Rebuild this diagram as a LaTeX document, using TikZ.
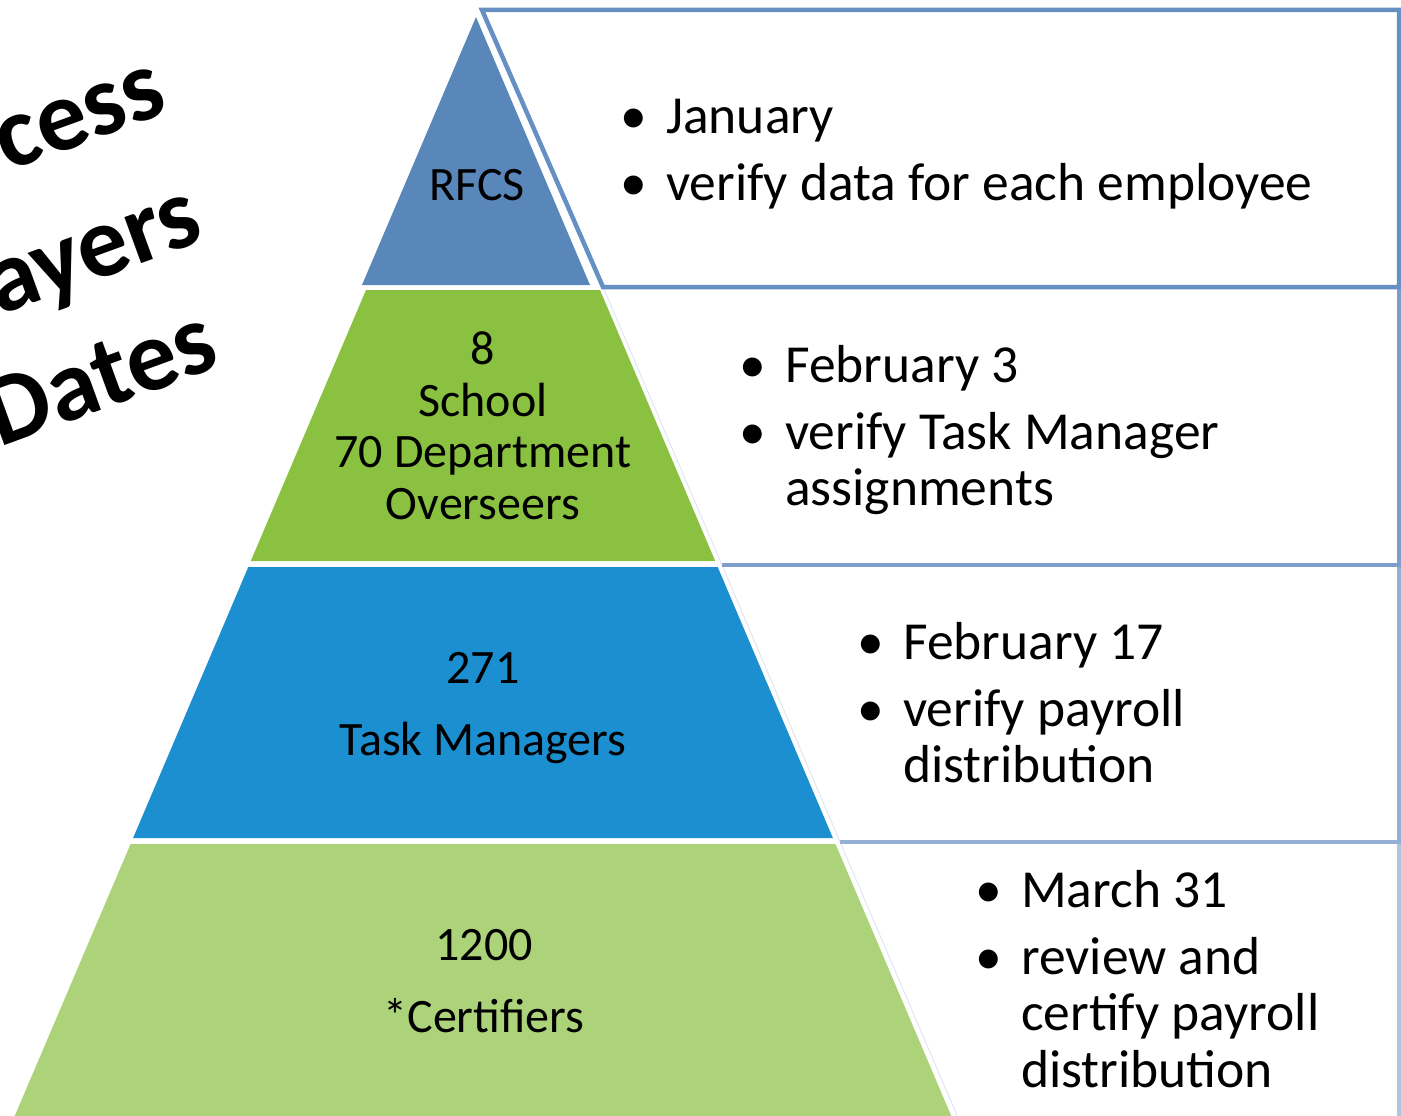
\documentclass[tikz,border=0pt]{standalone}
\usepackage{fontspec}
\setmainfont{Carlito}
\usetikzlibrary{positioning}

\definecolor{rfcsblue}{HTML}{5A87BA}
\definecolor{schoolgreen}{HTML}{8AC140}
\definecolor{taskblue}{HTML}{1B8FD0}
\definecolor{certgreen}{HTML}{ACD27A}
\definecolor{boxA}{HTML}{6690C4}
\definecolor{boxB}{HTML}{7D9DCB}
\definecolor{boxC}{HTML}{95AED4}
\definecolor{boxD}{HTML}{B0C3DF}
\definecolor{boxedge}{HTML}{DFE7F3}

\newcommand{\bul}[1]{\begin{tabular}[t]{@{}p{46pt}@{}l@{}}\textbullet & #1\end{tabular}}

\begin{document}
\begin{tikzpicture}[x=1pt,y=-1pt,
  tier/.style={font=\fontsize{48}{52}\selectfont,anchor=base,inner sep=0pt},
  note/.style={font=\fontsize{53.5}{56.5}\selectfont,anchor=base west,inner sep=0pt},
  title/.style={font=\fontsize{101}{108}\selectfont\bfseries,anchor=base east,rotate=20,inner sep=0pt},
  boxline/.style={line width=4.5pt,line join=miter},
  faint/.style={boxedge,line width=1pt}]

  \useasboundingbox (0,0) rectangle (1401,1116);
  \clip (0,0) rectangle (1401,1116);

  \node[title] (ttl1) at (171,112) {Process};
  \node[title] (ttl2) at (207,240) {Layers};
  \node[title] (ttl3) at (223,366) {Dates};

  \fill[rfcsblue] (476,17) -- (590,285) -- (362,285) -- cycle;
  \fill[schoolgreen] (366,290) -- (600,290) -- (715.2,561) -- (250.8,561) -- cycle;
  \fill[taskblue] (248.3,567) -- (717.7,567) -- (832.9,838) -- (133.1,838) -- cycle;
  \fill[certgreen] (130.6,844) -- (835.5,844) -- (953,1120) -- (13,1120) -- cycle;

  \draw[boxline,boxD] (840,842) -- (1399,842) -- (1399,1120);
  \draw[faint] (840,842) -- (959,1120);
  \draw[boxline,boxC] (722,565) -- (1399,565) -- (1399,842) -- (840,842);
  \draw[faint] (722,565) -- (840,842);
  \draw[boxline,boxB] (603,287) -- (1399,287) -- (1399,565) -- (722,565);
  \draw[faint] (603,287) -- (722,565);
  \draw[boxline,boxA] (482,10) -- (1399,10) -- (1399,287) -- (603,287) -- cycle;

  \node[tier] (rfcs) at (477,200) {RFCS};
  \node[tier] (school1) at (483,364) {8};
  \node[tier] (school2) at (483,416) {School};
  \node[tier] (school3) at (483,467) {70 Department};
  \node[tier] (school4) at (483,519) {Overseers};
  \node[tier] (task1) at (483,683) {271};
  \node[tier] (task2) at (483,755) {Task Managers};
  \node[tier] (cert1) at (484,960) {1200};
  \node[tier] (cert2) at (484,1032) {*Certifiers};

  \node[note] (jan) at (620,133) {\bul{January}};
  \node[note] (jando) at (620,200) {\bul{verify data for each employee}};
  \node[note] (febA) at (739,382) {\bul{February 3}};
  \node[note] (febAdo) at (739,449) {\bul{verify Task Manager\\ & assignments}};
  \node[note] (febB) at (857,659) {\bul{February 17}};
  \node[note] (febBdo) at (857,726) {\bul{verify payroll\\ & distribution}};
  \node[note] (mar) at (975,907) {\bul{March 31}};
  \node[note] (mardo) at (975,974) {\bul{review and\\ & certify payroll\\ & distribution}};

\end{tikzpicture}
\end{document}
